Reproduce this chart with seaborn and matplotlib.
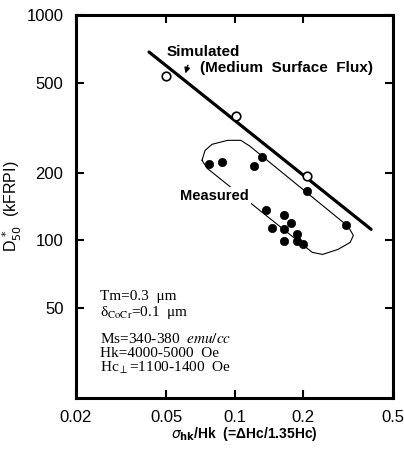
import matplotlib
matplotlib.use("Agg")
import matplotlib.pyplot as plt
import seaborn as sns
import pandas as pd

# simulated curve (medium surface flux) and simulated points
sim_line_x = [0.042, 0.40]
sim_line_y = [685, 112]
sim_x = [0.050, 0.101, 0.209]
sim_y = [536, 356, 194]

# measured points
meas_x = [0.077, 0.088, 0.122, 0.132, 0.208, 0.310, 0.137, 0.165, 0.177,
          0.146, 0.166, 0.188, 0.165, 0.189, 0.201]
meas_y = [218, 223, 214, 235, 166, 117, 137, 130, 120,
          113, 112, 107, 99, 99, 96]

# outline drawn around the measured group
outline_x = [0.0719, 0.0742, 0.0797, 0.0932, 0.1066, 0.117, 0.317, 0.334,
             0.3235, 0.2856, 0.2445, 0.2203, 0.0757, 0.0719]
outline_y = [226.8, 251, 267, 278, 278, 261.7, 115.4, 105.2,
             98, 91.2, 86.7, 88.5, 208.9, 226.8]

x_ticks = [0.02, 0.05, 0.1, 0.2, 0.5]
x_labels = ['0.02', '0.05', '0.1', '0.2', '0.5']
y_ticks = [50, 100, 200, 500, 1000]
y_labels = ['50', '100', '200', '500', '1000']

sns.set_style("ticks")
plt.rcParams['font.family'] = ['Liberation Sans', 'DejaVu Sans']
for key in ['text.color', 'axes.labelcolor', 'xtick.color', 'ytick.color', 'axes.edgecolor']:
    plt.rcParams[key] = 'black'

fig = plt.figure(figsize=(4.04, 4.49), dpi=100)
ax = fig.add_axes([0.188, 0.1136, 0.785, 0.853])

sim_df = pd.DataFrame({'x': sim_x, 'y': sim_y})
meas_df = pd.DataFrame({'x': meas_x, 'y': meas_y})

sns.lineplot(x=sim_line_x, y=sim_line_y, color='black', linewidth=2.3, ax=ax)
sns.scatterplot(data=sim_df, x='x', y='y', marker='o', s=38, facecolor='white',
                edgecolor='black', linewidth=1.2, ax=ax, zorder=4)
sns.scatterplot(data=meas_df, x='x', y='y', marker='o', s=36, color='black',
                edgecolor='black', ax=ax, zorder=4)
ax.plot(outline_x, outline_y, color='black', linewidth=0.8, zorder=2)

ax.set_xscale('log')
ax.set_yscale('log')
ax.set_xlim(0.02, 0.5)
ax.set_ylim(20, 1000)

ax.set_xticks(x_ticks)
ax.set_xticklabels(x_labels)
ax.set_yticks(y_ticks)
ax.set_yticklabels(y_labels)
ax.minorticks_off()
ax.tick_params(axis='both', which='major', direction='in', length=6, width=1.5,
               top=True, right=True, labelsize=12, pad=9)

for side in ['left', 'right', 'top', 'bottom']:
    ax.spines[side].set_linewidth(2.2)
    ax.spines[side].set_visible(True)

ax.set_ylabel(r'D$_{50}^{\,*}$  (kFRPI)', fontsize=11.5)
ax.yaxis.set_label_coords(-0.165, 0.5)
ax.set_xlabel(r'$\sigma_{\mathbf{hk}}$/Hk  (=ΔHc/1.35Hc)', fontsize=10,
              fontweight='bold')
ax.xaxis.set_label_coords(0.53, -0.07)

ax.text(0.05, 685, 'Simulated', fontsize=11, fontweight='bold', va='center', ha='left')
ax.text(0.0704, 581, '(Medium  Surface  Flux)', fontsize=11, fontweight='bold',
        va='center', ha='left')
ax.annotate('', xy=(0.0603, 536), xytext=(0.0628, 615),
            arrowprops=dict(arrowstyle='-|>', color='black', lw=1.0,
                            mutation_scale=8))
ax.text(0.0814, 157, 'Measured', fontsize=10.5, fontweight='bold', ha='center',
        va='center', zorder=3,
        bbox=dict(facecolor='white', edgecolor='none', pad=1.5))

info = [
    (0.266, r'Tm=0.3  μm'),
    (0.222, r'δ$_{\mathrm{CoCr}}$=0.1  μm'),
    (0.154, r'Ms=340-380  $\mathit{emu/cc}$'),
    (0.115, r'Hk=4000-5000  Oe'),
    (0.078, r'Hc$_{\perp}$=1100-1400  Oe'),
]
for yy, txt in info:
    ax.text(0.0757, yy, txt, transform=ax.transAxes, fontsize=11,
            family=['Liberation Serif', 'DejaVu Serif'], math_fontfamily='stix',
            va='center', ha='left')

fig.savefig('out.png', dpi=100)
